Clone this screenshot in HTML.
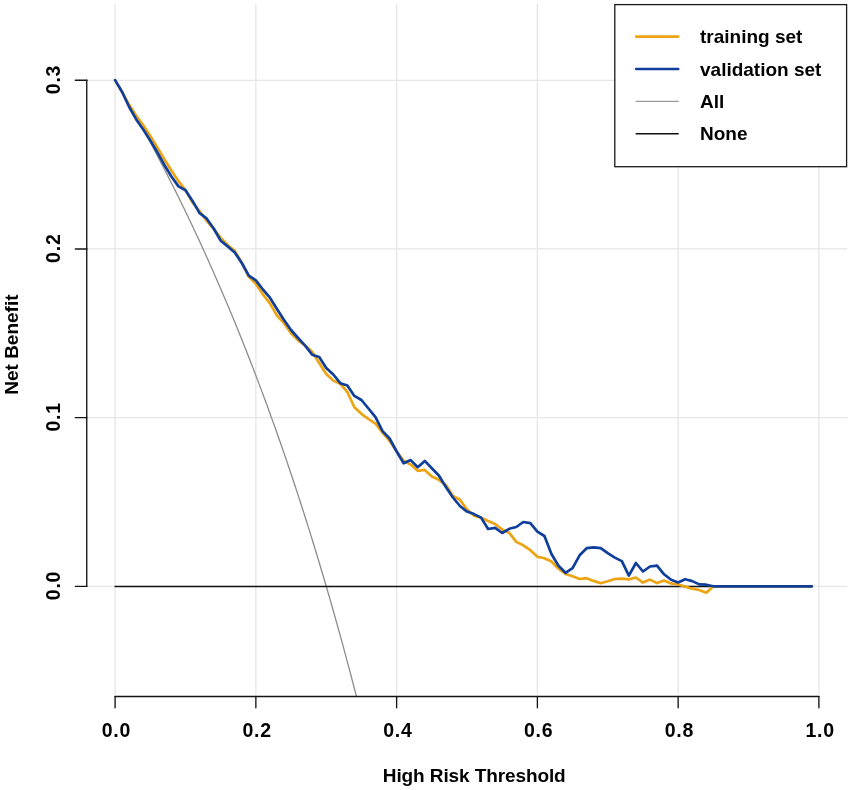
<!DOCTYPE html>
<html><head><meta charset="utf-8"><title>Decision curve</title>
<style>.tk{font-size:19.5px;letter-spacing:0.8px;}html,body{margin:0;padding:0;background:#fff;}body{width:851px;height:790px;overflow:hidden;font-family:"Liberation Sans",sans-serif;}svg{display:block;will-change:transform;}</style>
</head><body>
<svg width="851" height="790" viewBox="0 0 851 790">
<rect width="851" height="790" fill="#fff"/>
<g stroke="#e6e6e6" stroke-width="1.3"><line x1="115.10" y1="4.0" x2="115.10" y2="694.0"/><line x1="255.86" y1="4.0" x2="255.86" y2="694.0"/><line x1="396.62" y1="4.0" x2="396.62" y2="694.0"/><line x1="537.38" y1="4.0" x2="537.38" y2="694.0"/><line x1="678.14" y1="4.0" x2="678.14" y2="694.0"/><line x1="818.90" y1="4.0" x2="818.90" y2="694.0"/><line x1="86.95" y1="586.30" x2="847.25" y2="586.30"/><line x1="86.95" y1="417.63" x2="847.25" y2="417.63"/><line x1="86.95" y1="248.96" x2="847.25" y2="248.96"/><line x1="86.95" y1="80.29" x2="847.25" y2="80.29"/></g>
<defs><clipPath id="pc"><rect x="86.95" y="4.0" width="760.30" height="692.50"/></clipPath></defs>
<g clip-path="url(#pc)" fill="none" stroke-linejoin="round" stroke-linecap="round">
<polyline points="115.10,80.29 116.51,82.66 117.92,85.03 119.32,87.42 120.73,89.81 122.14,92.22 123.55,94.63 124.95,97.05 126.36,99.49 127.77,101.93 129.18,104.39 130.58,106.85 131.99,109.32 133.40,111.81 134.81,114.30 136.21,116.81 137.62,119.32 139.03,121.85 140.44,124.38 141.84,126.93 143.25,129.49 144.66,132.05 146.07,134.63 147.47,137.22 148.88,139.82 150.29,142.43 151.70,145.05 153.11,147.69 154.51,150.33 155.92,152.99 157.33,155.65 158.74,158.33 160.14,161.02 161.55,163.72 162.96,166.43 164.37,169.16 165.77,171.90 167.18,174.64 168.59,177.40 170.00,180.17 171.40,182.96 172.81,185.75 174.22,188.56 175.63,191.38 177.03,194.22 178.44,197.06 179.85,199.92 181.26,202.79 182.66,205.67 184.07,208.57 185.48,211.48 186.89,214.40 188.30,217.33 189.70,220.28 191.11,223.24 192.52,226.22 193.93,229.21 195.33,232.21 196.74,235.22 198.15,238.25 199.56,241.29 200.96,244.35 202.37,247.42 203.78,250.50 205.19,253.60 206.59,256.71 208.00,259.84 209.41,262.98 210.82,266.14 212.22,269.31 213.63,272.50 215.04,275.70 216.45,278.91 217.85,282.14 219.26,285.39 220.67,288.65 222.08,291.92 223.49,295.21 224.89,298.52 226.30,301.84 227.71,305.18 229.12,308.54 230.52,311.91 231.93,315.30 233.34,318.70 234.75,322.12 236.15,325.55 237.56,329.01 238.97,332.48 240.38,335.96 241.78,339.47 243.19,342.99 244.60,346.52 246.01,350.08 247.41,353.65 248.82,357.24 250.23,360.85 251.64,364.48 253.04,368.12 254.45,371.78 255.86,375.46 257.27,379.16 258.68,382.88 260.08,386.62 261.49,390.37 262.90,394.14 264.31,397.94 265.71,401.75 267.12,405.58 268.53,409.43 269.94,413.31 271.34,417.20 272.75,421.11 274.16,425.04 275.57,428.99 276.97,432.96 278.38,436.96 279.79,440.97 281.20,445.01 282.60,449.06 284.01,453.14 285.42,457.24 286.83,461.36 288.23,465.50 289.64,469.67 291.05,473.85 292.46,478.06 293.87,482.29 295.27,486.55 296.68,490.83 298.09,495.13 299.50,499.45 300.90,503.80 302.31,508.17 303.72,512.56 305.13,516.98 306.53,521.43 307.94,525.89 309.35,530.39 310.76,534.90 312.16,539.45 313.57,544.02 314.98,548.61 316.39,553.23 317.79,557.87 319.20,562.54 320.61,567.24 322.02,571.97 323.42,576.72 324.83,581.49 326.24,586.30 327.65,591.13 329.06,595.99 330.46,600.88 331.87,605.80 333.28,610.74 334.69,615.72 336.09,620.72 337.50,625.75 338.91,630.82 340.32,635.91 341.72,641.03 343.13,646.18 344.54,651.37 345.95,656.58 347.35,661.82 348.76,667.10 350.17,672.41 351.58,677.75 352.98,683.12 354.39,688.52 355.80,693.96 357.21,699.43" stroke="#8c8c8c" stroke-width="1.3"/>
<line x1="115.10" y1="586.55" x2="811.86" y2="586.55" stroke="#111" stroke-width="1.4"/>
<polyline points="115.10,80.10 122.14,92.00 129.18,104.80 136.21,115.80 143.25,125.20 150.29,136.10 157.33,147.50 164.37,159.30 171.40,170.50 178.44,181.20 185.48,190.00 192.52,202.30 199.56,211.00 206.59,220.80 213.63,228.50 220.67,237.90 227.71,245.00 234.75,250.90 241.78,262.60 248.82,276.80 255.86,283.90 262.90,294.30 269.94,303.30 276.97,315.50 284.01,323.20 291.05,333.20 298.09,340.30 305.13,345.50 312.16,351.70 319.20,363.00 326.24,374.00 333.28,380.60 340.32,383.90 347.35,392.00 354.39,407.20 361.43,413.80 368.47,419.00 375.51,423.70 382.54,432.70 389.58,440.80 396.62,451.20 403.66,460.70 410.70,464.60 417.73,470.80 424.77,469.90 431.81,476.50 438.85,479.80 445.89,485.00 452.92,496.00 459.96,499.70 467.00,509.60 474.04,515.70 481.08,517.60 488.11,521.00 495.15,524.00 502.19,529.50 509.23,532.80 516.27,541.90 523.30,545.30 530.34,550.20 537.38,556.70 544.42,558.20 551.46,561.50 558.49,568.70 565.53,574.00 572.57,576.30 579.61,579.00 586.65,578.20 593.68,580.90 600.72,583.20 607.76,581.30 614.80,579.00 621.84,578.60 628.87,579.40 635.91,577.50 642.95,582.60 649.99,579.60 657.03,583.10 664.06,580.60 671.10,583.40 678.14,584.50 685.18,586.60 692.22,588.70 699.25,590.00 706.29,592.70 713.33,586.30 720.37,586.30 727.41,586.30 734.44,586.30 741.48,586.30 748.52,586.30 755.56,586.30 762.60,586.30 769.63,586.30 776.67,586.30 783.71,586.30 790.75,586.30 797.79,586.30 804.82,586.30 811.86,586.30" stroke="#ECA412" stroke-width="2.7"/>
<polyline points="115.10,80.10 122.14,92.00 129.18,107.00 136.21,119.40 143.25,129.50 150.29,140.40 157.33,152.30 164.37,165.00 171.40,176.50 178.44,186.40 185.48,190.30 192.52,200.90 199.56,213.20 206.59,218.40 213.63,228.50 220.67,240.70 227.71,246.40 234.75,252.50 241.78,263.00 248.82,275.60 255.86,280.40 262.90,289.50 269.94,297.70 276.97,309.00 284.01,320.00 291.05,330.00 298.09,338.00 305.13,345.60 312.16,354.80 319.20,357.00 326.24,368.00 333.28,374.50 340.32,383.20 347.35,385.50 354.39,395.90 361.43,400.00 368.47,408.50 375.51,417.10 382.54,431.10 389.58,438.50 396.62,451.50 403.66,463.30 410.70,460.10 417.73,467.20 424.77,460.90 431.81,468.20 438.85,475.50 445.89,487.00 452.92,497.50 459.96,506.00 467.00,511.60 474.04,514.10 481.08,517.60 488.11,529.00 495.15,527.90 502.19,533.00 509.23,528.80 516.27,527.00 523.30,522.00 530.34,523.10 537.38,531.60 544.42,536.00 551.46,554.00 558.49,565.70 565.53,572.80 572.57,568.20 579.61,555.30 586.65,548.20 593.68,547.40 600.72,548.10 607.76,553.20 614.80,557.60 621.84,561.10 628.87,575.60 635.91,563.00 642.95,571.50 649.99,566.50 657.03,565.60 664.06,574.30 671.10,579.80 678.14,582.40 685.18,579.20 692.22,581.10 699.25,584.40 706.29,584.70 713.33,586.30 720.37,586.30 727.41,586.30 734.44,586.30 741.48,586.30 748.52,586.30 755.56,586.30 762.60,586.30 769.63,586.30 776.67,586.30 783.71,586.30 790.75,586.30 797.79,586.30 804.82,586.30 811.86,586.30" stroke="#103F9B" stroke-width="2.7"/>
</g>
<g stroke="#141414" stroke-width="1.35" stroke-linecap="round"><line x1="115.10" y1="696.5" x2="818.90" y2="696.5"/><line x1="115.10" y1="696.5" x2="115.10" y2="707.8"/><line x1="255.86" y1="696.5" x2="255.86" y2="707.8"/><line x1="396.62" y1="696.5" x2="396.62" y2="707.8"/><line x1="537.38" y1="696.5" x2="537.38" y2="707.8"/><line x1="678.14" y1="696.5" x2="678.14" y2="707.8"/><line x1="818.90" y1="696.5" x2="818.90" y2="707.8"/><line x1="86.75" y1="586.30" x2="86.75" y2="80.29"/><line x1="86.95" y1="586.30" x2="75.35000000000001" y2="586.30"/><line x1="86.95" y1="417.63" x2="75.35000000000001" y2="417.63"/><line x1="86.95" y1="248.96" x2="75.35000000000001" y2="248.96"/><line x1="86.95" y1="80.29" x2="75.35000000000001" y2="80.29"/></g>
<g font-family="'Liberation Sans', sans-serif" font-weight="bold" font-size="19" fill="#000"><text x="116.40" y="737.0" text-anchor="middle" class="tk">0.0</text><text x="257.16" y="737.0" text-anchor="middle" class="tk">0.2</text><text x="397.92" y="737.0" text-anchor="middle" class="tk">0.4</text><text x="538.68" y="737.0" text-anchor="middle" class="tk">0.6</text><text x="679.44" y="737.0" text-anchor="middle" class="tk">0.8</text><text x="820.20" y="737.0" text-anchor="middle" class="tk">1.0</text><text transform="translate(60.2,585.50) rotate(-90)" x="0" y="0" text-anchor="middle" class="tk">0.0</text><text transform="translate(60.2,416.83) rotate(-90)" x="0" y="0" text-anchor="middle" class="tk">0.1</text><text transform="translate(60.2,248.16) rotate(-90)" x="0" y="0" text-anchor="middle" class="tk">0.2</text><text transform="translate(60.2,79.49) rotate(-90)" x="0" y="0" text-anchor="middle" class="tk">0.3</text><text x="474.2" y="781.9" text-anchor="middle" letter-spacing="-0.1">High Risk Threshold</text><text transform="translate(18.0,344.6) rotate(-90)" x="0" y="0" text-anchor="middle">Net Benefit</text></g>
<g font-family="'Liberation Sans', sans-serif" font-weight="bold" font-size="19" fill="#000"><rect x="614.8" y="4.6" width="231.80" height="162.10" fill="#fff" stroke="#1a1a1a" stroke-width="1.3"/><line x1="636.2" y1="36.60" x2="678.2" y2="36.60" stroke="#ECA412" stroke-width="2.7" stroke-linecap="round"/><text x="700.0" y="43.20">training set</text><line x1="636.2" y1="69.00" x2="678.2" y2="69.00" stroke="#103F9B" stroke-width="2.7" stroke-linecap="round"/><text x="700.0" y="75.60">validation set</text><line x1="636.2" y1="101.40" x2="678.2" y2="101.40" stroke="#9a9a9a" stroke-width="1.3" stroke-linecap="round"/><text x="700.0" y="108.00">All</text><line x1="636.2" y1="133.80" x2="678.2" y2="133.80" stroke="#111" stroke-width="1.5" stroke-linecap="round"/><text x="700.0" y="140.40">None</text></g>
</svg>
</body></html>
